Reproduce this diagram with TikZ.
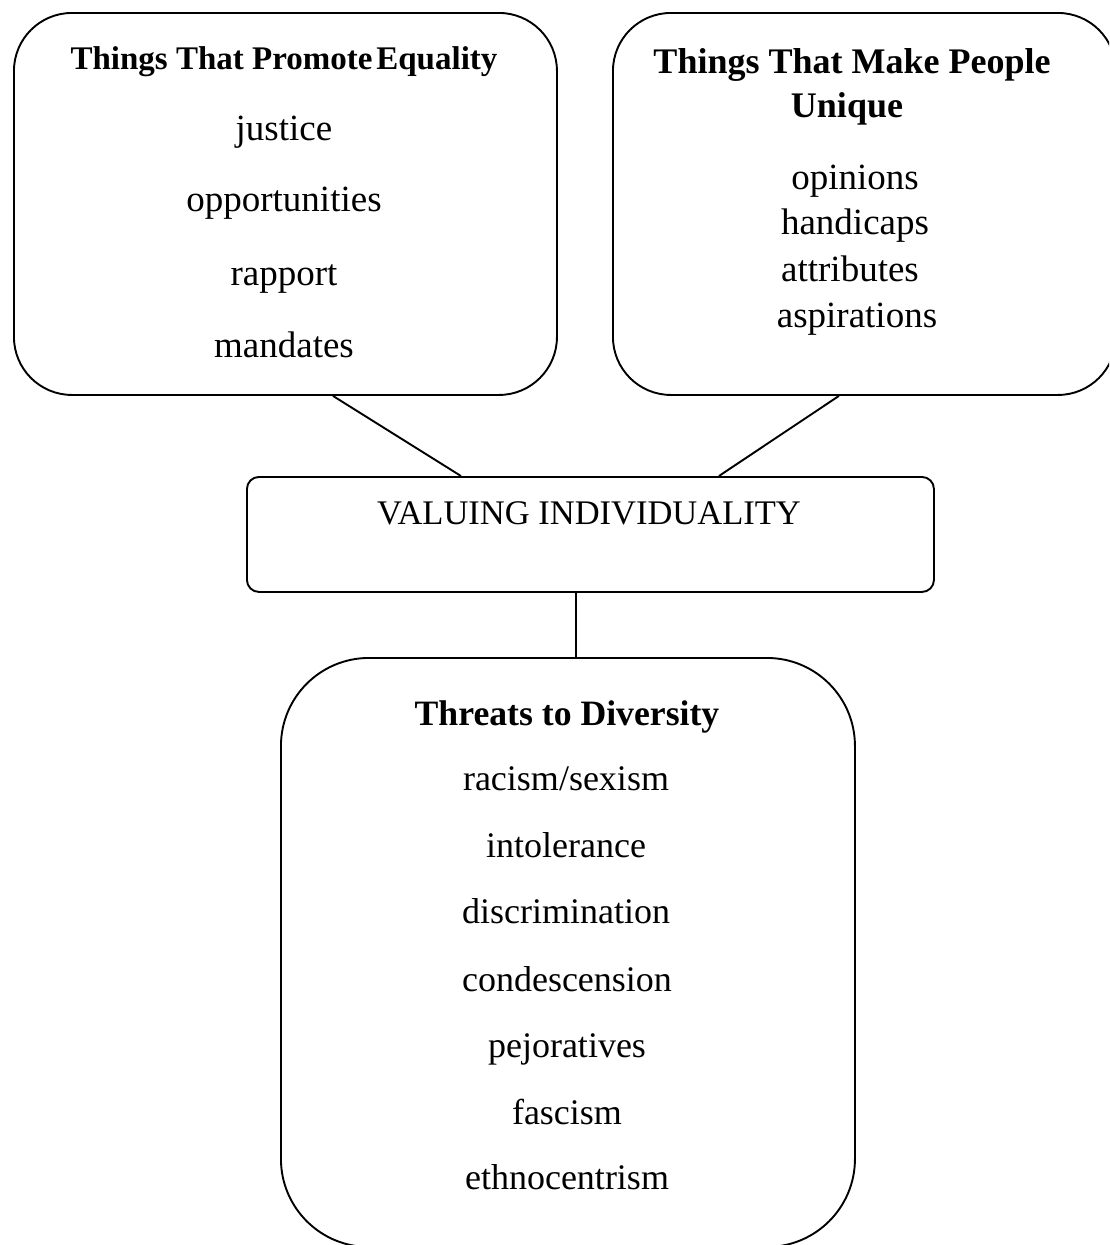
\documentclass[tikz,border=0pt]{standalone}
\usepackage{fontspec}
\setmainfont{Liberation Serif}
\usetikzlibrary{calc}
\begin{document}
\begin{tikzpicture}[x=1pt,y=-1pt,
  panel/.style={draw, line width=1.9pt, rectangle, inner sep=0pt, anchor=north west},
  item/.style={font=\fontsize{37}{44}\selectfont, inner sep=0pt, anchor=base},
  link/.style={line width=1.9pt}]
\useasboundingbox (0,0) rectangle (1109,1245);
\begin{scope}
\clip (0,0) rectangle (1109,1245);
% frames
\node[panel, rounded corners=58pt, minimum width=543pt, minimum height=382pt] (equal) at (13,12) {};
\node[panel, rounded corners=58pt, minimum width=503pt, minimum height=382pt] (unique) at (612,12) {};
\node[panel, rounded corners=12pt, minimum width=687pt, minimum height=115pt] (core) at (246,476) {};
\node[panel, rounded corners=88pt, minimum width=574pt, minimum height=589pt] (threat) at (280,657) {};
\end{scope}

% connectors
\draw[link] ([xshift=47.5pt]equal.south) -- ([xshift=-129.5pt]core.north);
\draw[link] ([xshift=-25.5pt]unique.south) -- ([xshift=128.5pt]core.north);
\draw[link] ([xshift=-14.5pt]core.south) -- ([xshift=8pt]threat.north);

% left panel
\node[anchor=base, inner sep=0pt, font=\bfseries\fontsize{33}{40}\selectfont] (eqT) at (284,69) {Things That Promote\hspace{0.12em}Equality};
\node[item] (eq1) at (284,140) {justice};
\node[item] (eq2) at (284,211) {opportunities};
\node[item] (eq3) at (284,285) {rapport};
\node[item] (eq4) at (284,357) {mandates};

% right panel
\node[anchor=base, inner sep=0pt, font=\bfseries\fontsize{36}{43}\selectfont] (unT1) at (852,73) {Things That Make People};
\node[anchor=base, inner sep=0pt, font=\bfseries\fontsize{36}{43}\selectfont] (unT2) at (847,117) {Unique};
\node[item] (un1) at (855,189) {opinions};
\node[item] (un2) at (855,234) {handicaps};
\node[item] (un3) at (850,281) {attributes};
\node[item] (un4) at (857,327) {aspirations};

% middle
\node[anchor=base, inner sep=0pt, font=\fontsize{34.5}{41}\selectfont] (coreT) at (589,524) {VALUING INDIVIDUALITY};

% bottom panel
\node[anchor=base, inner sep=0pt, font=\bfseries\fontsize{35.7}{43}\selectfont] (thT) at (567,725) {Threats to Diversity};
\node[item, font=\fontsize{36}{43}\selectfont] (th1) at (566,790) {racism/sexism};
\node[item, font=\fontsize{36}{43}\selectfont] (th2) at (566,857) {intolerance};
\node[item, font=\fontsize{36}{43}\selectfont] (th3) at (566,923) {discrimination};
\node[item, font=\fontsize{36}{43}\selectfont] (th4) at (567,991) {condescension};
\node[item, font=\fontsize{36}{43}\selectfont] (th5) at (567,1057) {pejoratives};
\node[item, font=\fontsize{36}{43}\selectfont] (th6) at (567,1124) {fascism};
\node[item, font=\fontsize{36}{43}\selectfont] (th7) at (567,1189) {ethnocentrism};
\end{tikzpicture}
\end{document}
